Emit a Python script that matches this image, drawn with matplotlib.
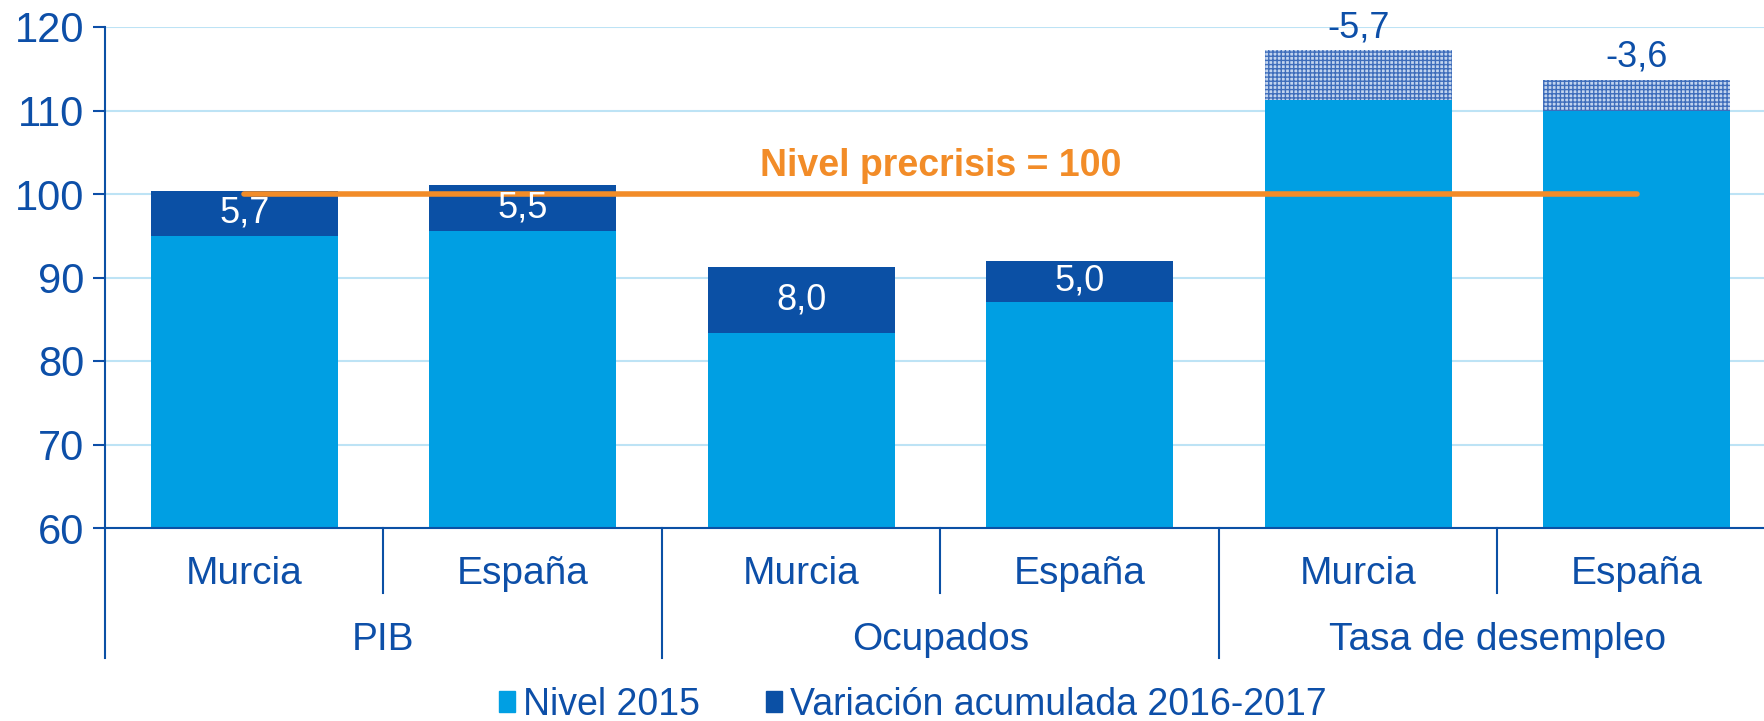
import matplotlib.pyplot as plt
import matplotlib.transforms as mtransforms
from matplotlib.patches import Patch
import numpy as np

plt.rcParams['font.family'] = ['Liberation Sans', 'DejaVu Sans']
plt.rcParams['hatch.linewidth'] = 1.0

# data
groups = ['PIB', 'Ocupados', 'Tasa de desempleo']
categories = ['Murcia', 'España', 'Murcia', 'España', 'Murcia', 'España']
nivel_2015 = [95.0, 95.6, 83.3, 87.1, 111.2, 110.0]
total_2017 = [100.4, 101.1, 91.3, 92.0, 117.2, 113.7]
variacion_labels = ['5,7', '5,5', '8,0', '5,0', '-5,7', '-3,6']
hatched = [False, False, False, False, True, True]
precrisis = 100
yticks = [60, 70, 80, 90, 100, 110, 120]

light = '#009FE3'
dark = '#0B50A5'
txt = '#0D4FA8'
grid_c = '#BDE3F5'
orange = '#F28C28'

fig = plt.figure(figsize=(17.65, 7.21), dpi=100)
ax = fig.add_axes([105 / 1765, 1 - 528 / 721, 1671 / 1765, 501 / 721])

x = np.arange(len(categories))
w = 0.67
top_part = np.array(total_2017) - np.array(nivel_2015)

ax.bar(x, nivel_2015, w, color=light, zorder=2)
for i in x:
    if hatched[i]:
        ax.bar(i, top_part[i], w, bottom=nivel_2015[i], facecolor='#C2D4EE',
               edgecolor='#3E6DBB', hatch='++++', linewidth=0, zorder=2)
        ax.annotate(variacion_labels[i], (i, total_2017[i]), xytext=(0, 16),
                    textcoords='offset points', ha='center', va='center',
                    color=txt, fontsize=26)
    else:
        ax.bar(i, top_part[i], w, bottom=nivel_2015[i], color=dark, zorder=2)
        ax.text(i, (nivel_2015[i] + total_2017[i]) / 2, variacion_labels[i],
                ha='center', va='center', color='white', fontsize=26, zorder=4)

# precrisis reference line
ax.plot([0, 5], [precrisis, precrisis], color=orange, lw=4, zorder=3,
        solid_capstyle='round')
ax.text(2.5, precrisis + 3.3, 'Nivel precrisis = 100', color=orange,
        fontsize=27, fontweight='bold', ha='center', va='center', zorder=4)

ax.set_ylim(60, 120)
ax.set_xlim(-0.5, 5.5)
ax.set_yticks(yticks)
ax.tick_params(axis='y', colors=txt, labelsize=30, length=9, width=1.5, pad=6)
ax.set_xticks([])
ax.grid(axis='y', color=grid_c, lw=1.5, zorder=0)
ax.set_axisbelow(True)
for s in ['top', 'right']:
    ax.spines[s].set_visible(False)
for s in ['left', 'bottom']:
    ax.spines[s].set_color(dark)
    ax.spines[s].set_linewidth(1.5)

# multi-level category axis
trans = mtransforms.blended_transform_factory(ax.transData, ax.transAxes)
for i, c in enumerate(categories):
    ax.text(i, -0.092, c, transform=trans, ha='center', va='center',
            color=txt, fontsize=28)
for g, name in enumerate(groups):
    ax.text(2 * g + 0.5, -0.224, name, transform=trans, ha='center',
            va='center', color=txt, fontsize=28)
for xs in [0.5, 2.5, 4.5]:
    ax.plot([xs, xs], [0, -0.13], transform=trans, color=dark, lw=1.5,
            clip_on=False)
for xs in [-0.5, 1.5, 3.5, 5.5]:
    ax.plot([xs, xs], [0, -0.26], transform=trans, color=dark, lw=1.5,
            clip_on=False)

handles = [Patch(color=light, label='Nivel 2015'),
           Patch(color=dark, label='Variación acumulada 2016-2017')]
leg = fig.legend(handles=handles, loc='center', bbox_to_anchor=(0.517, 1 - 705 / 721),
                 ncol=2, frameon=False, fontsize=27, handlelength=0.45,
                 handleheight=0.5, handletextpad=0.2, columnspacing=1.75)
for t in leg.get_texts():
    t.set_color(txt)

fig.savefig('out.png', dpi=100)
